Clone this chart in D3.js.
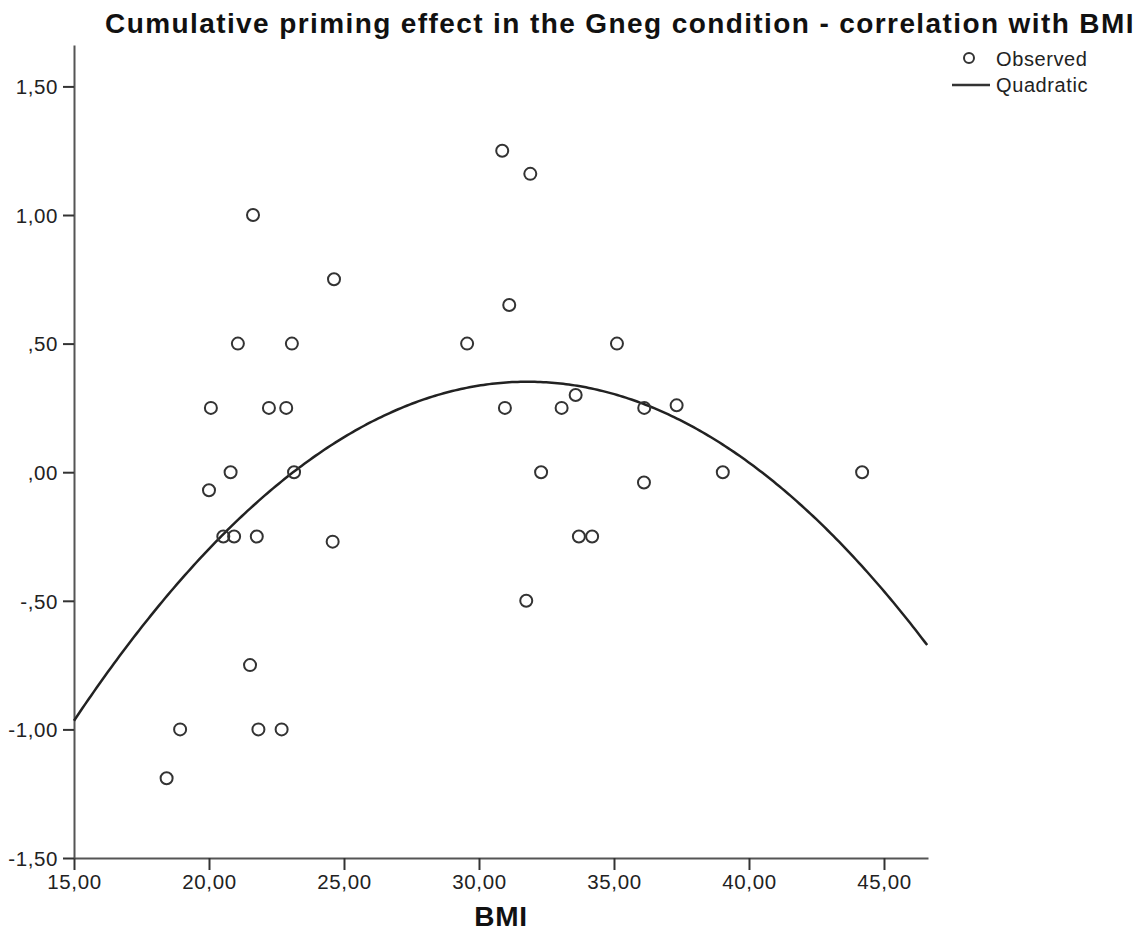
<!DOCTYPE html>
<html>
<head>
<meta charset="utf-8">
<script src="https://cdn.jsdelivr.net/npm/d3@7"></script>
<style>
  html, body { margin: 0; padding: 0; background: #fff; }
  svg { display: block; }
  text { font-family: "Liberation Sans", Arial, sans-serif; }
</style>
</head>
<body>
<svg id="chart" width="1145" height="945"></svg>
<script>
// Observed cases: BMI and cumulative priming effect (Gneg condition)
const bmi = [18.43, 18.93, 20.00, 20.07, 20.53, 20.93, 20.80, 21.07, 21.52, 21.63,
             21.77, 21.83, 22.22, 22.69, 22.86, 23.07, 23.15, 24.63, 24.58, 29.56,
             30.86, 30.96, 31.12, 31.75, 31.90, 32.30, 33.06, 33.58, 33.70, 34.19,
             35.11, 36.12, 36.11, 37.32, 39.03, 44.19];
const priming = [-1.19, -1.00, -0.07, 0.25, -0.25, -0.25, 0.00, 0.50, -0.75, 1.00,
                 -0.25, -1.00, 0.25, -1.00, 0.25, 0.50, 0.00, 0.75, -0.27, 0.50,
                 1.25, 0.25, 0.65, -0.50, 1.16, 0.00, 0.25, 0.30, -0.25, -0.25,
                 0.50, 0.25, -0.04, 0.26, 0.00, 0.00];

const xTickValues = [15, 20, 25, 30, 35, 40, 45];
const xTickLabels = ["15,00", "20,00", "25,00", "30,00", "35,00", "40,00", "45,00"];
const yTickValues = [-1.5, -1.0, -0.5, 0, 0.5, 1.0, 1.5];
const yTickLabels = ["-1,50", "-1,00", "-,50", ",00", ",50", "1,00", "1,50"];

const legendLabels = ["Observed", "Quadratic"];
const titleText = "Cumulative priming effect in the Gneg condition - correlation with BMI";
const xAxisTitle = "BMI";

// Least-squares quadratic fit y = b0 + b1 x + b2 x^2
function quadFit(xs, ys) {
  const n = xs.length;
  let s = [0, 0, 0, 0, 0], t = [0, 0, 0];
  for (let i = 0; i < n; i++) {
    let p = 1;
    for (let k = 0; k < 5; k++) { s[k] += p; p *= xs[i]; }
    t[0] += ys[i]; t[1] += ys[i] * xs[i]; t[2] += ys[i] * xs[i] * xs[i];
  }
  const A = [[s[0], s[1], s[2], t[0]], [s[1], s[2], s[3], t[1]], [s[2], s[3], s[4], t[2]]];
  for (let c = 0; c < 3; c++) {
    for (let r = c + 1; r < 3; r++) {
      const f = A[r][c] / A[c][c];
      for (let k = c; k < 4; k++) A[r][k] -= f * A[c][k];
    }
  }
  const b = [0, 0, 0];
  for (let r = 2; r >= 0; r--) {
    let v = A[r][3];
    for (let k = r + 1; k < 3; k++) v -= A[r][k] * b[k];
    b[r] = v / A[r][r];
  }
  return b;
}
const coef = quadFit(bmi, priming);

const svg = d3.select("#chart");
const plot = { left: 74, right: 928, top: 45, bottom: 858 };

const x = d3.scaleLinear().domain([15, 46.63]).range([plot.left, plot.right]);
const y = d3.scaleLinear().domain([-1.5, 1.661]).range([plot.bottom, plot.top]);

// Title
svg.append("text")
  .attr("x", 620).attr("y", 33)
  .attr("text-anchor", "middle")
  .attr("font-size", 28).attr("font-weight", "bold").attr("fill", "#111")
  .attr("letter-spacing", 1.4)
  .text(titleText);

// Axes
const xAxis = d3.axisBottom(x).tickValues(xTickValues)
  .tickFormat((d, i) => xTickLabels[i]).tickSize(12).tickSizeOuter(0).tickPadding(4);
const yAxis = d3.axisLeft(y).tickValues(yTickValues)
  .tickFormat((d, i) => yTickLabels[i]).tickSize(11).tickSizeOuter(0).tickPadding(5);

const gx = svg.append("g").attr("transform", `translate(0,${plot.bottom})`).call(xAxis);
const gy = svg.append("g").attr("transform", `translate(${plot.left},0)`).call(yAxis);

[gx, gy].forEach(g => {
  g.select(".domain").attr("stroke", "#555").attr("stroke-width", 2);
  g.selectAll(".tick line").attr("stroke", "#333").attr("stroke-width", 2);
  g.selectAll(".tick text").attr("font-size", 20.5).attr("fill", "#222")
    .attr("letter-spacing", 0.6)
    .attr("font-family", "'Liberation Sans', Arial, sans-serif");
});
gy.selectAll(".tick text").attr("dy", "0.36em");

// X axis title
svg.append("text")
  .attr("x", (plot.left + plot.right) / 2).attr("y", 926)
  .attr("text-anchor", "middle")
  .attr("font-size", 28).attr("font-weight", "bold").attr("fill", "#111")
  .attr("letter-spacing", 0.8)
  .text(xAxisTitle);

// Fitted quadratic curve
const xs = d3.range(0, 301).map(i => 15 + (46.6 - 15) * i / 300);
const line = d3.line()
  .x(d => x(d))
  .y(d => y(coef[0] + coef[1] * d + coef[2] * d * d));
svg.append("path")
  .datum(xs)
  .attr("d", line)
  .attr("fill", "none")
  .attr("stroke", "#222")
  .attr("stroke-width", 2.5);

// Observed points
svg.append("g").selectAll("circle")
  .data(bmi.map((b, i) => [b, priming[i]]))
  .join("circle")
  .attr("cx", d => x(d[0]))
  .attr("cy", d => y(d[1]))
  .attr("r", 6)
  .attr("fill", "none")
  .attr("stroke", "#333")
  .attr("stroke-width", 2);

// Legend
const lg = svg.append("g");
lg.append("circle").attr("cx", 969).attr("cy", 58).attr("r", 5)
  .attr("fill", "none").attr("stroke", "#333").attr("stroke-width", 2);
lg.append("text").attr("x", 996).attr("y", 66).attr("font-size", 20).attr("fill", "#222")
  .attr("letter-spacing", 0.6)
  .text(legendLabels[0]);
lg.append("line").attr("x1", 952).attr("x2", 990).attr("y1", 85).attr("y2", 85)
  .attr("stroke", "#333").attr("stroke-width", 2.5);
lg.append("text").attr("x", 996).attr("y", 92).attr("font-size", 20).attr("fill", "#222")
  .attr("letter-spacing", 0.6)
  .text(legendLabels[1]);
</script>
</body>
</html>
